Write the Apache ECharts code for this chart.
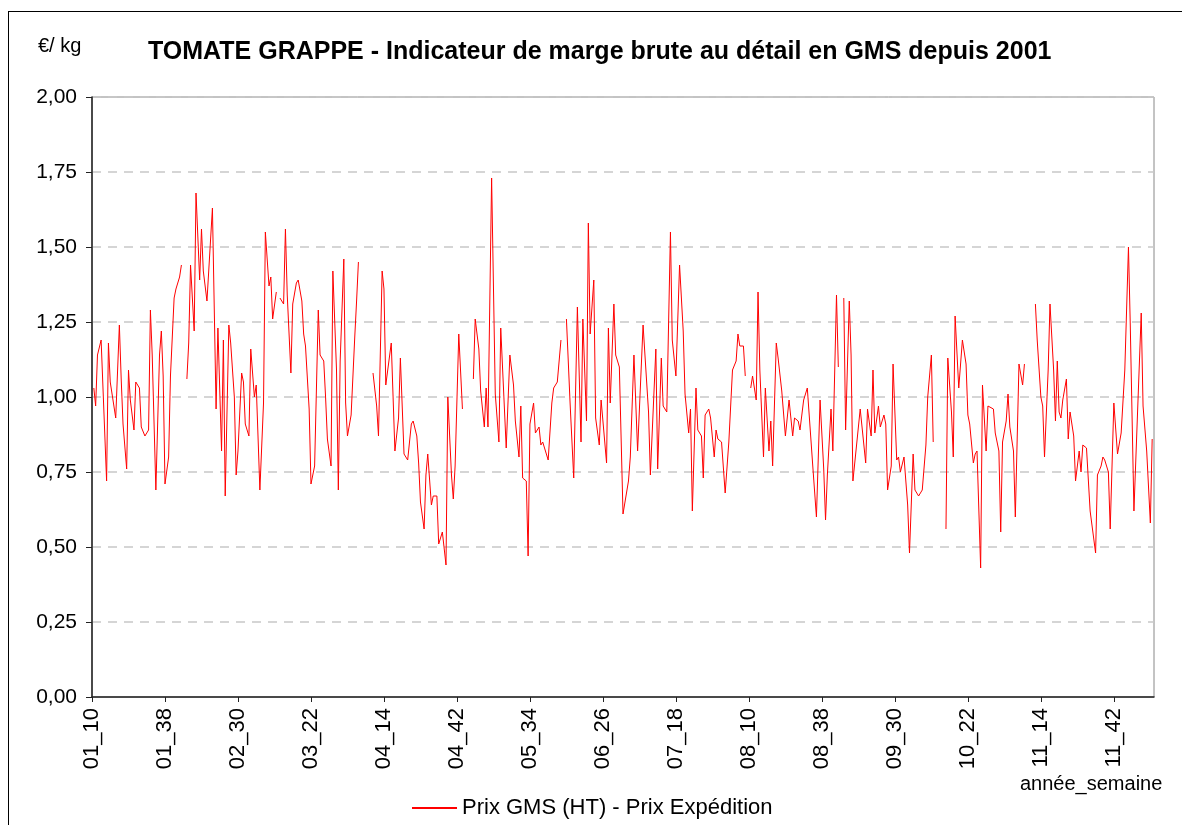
<!DOCTYPE html>
<html lang="fr">

<head>
    <meta charset="UTF-8">
    <title>Tomate grappe - marge brute GMS</title>
    <script src="https://cdn.jsdelivr.net/npm/echarts@6/dist/echarts.min.js"></script>
    <style>
        html, body { margin: 0; padding: 0; background: #fff; overflow: hidden; }
        #frame { position: absolute; left: 8px; top: 11px; width: 1200px; height: 840px; border: 1px solid #000; }
        #chart { position: absolute; left: 0; top: 0; width: 1182px; height: 825px; }
    </style>
</head>

<body>
    <div id="frame"></div>
    <div id="chart"></div>
</body>

</html>
<script>
    // rang de la semaine depuis 01_10 (une semaine = 1)
    let weekIdx = [
        1, 2, 3, 5, 8, 9, 10, 13, 15, 16, 17, 19, 20, 21, 23, 24, 26, 27, 29, 31, 32, 33, 35, 37, 38, 39, 40, 42, 43, 45, 46, 48, 49, 50,
        52, 53, 54, 56, 57, 59, 60, 61, 63, 66, 68, 69, 71, 72, 73, 75, 76, 78, 79, 80, 82, 83, 84, 86, 87, 89, 90, 92, 94, 95, 97, 98, 99, 101, 102,
        103, 105, 106, 107, 109, 110, 112, 113, 115, 116, 117, 119, 120, 122, 124, 125, 127, 128, 129, 131, 132, 134, 135, 136, 138, 139, 140, 142, 144, 145, 146, 147,
        154, 156, 157, 159, 160, 161, 164, 166, 168, 169, 171, 172, 173, 175, 176, 178, 179, 180, 182, 183, 184, 186, 187, 189, 190, 192, 194, 195, 197, 198, 199, 201, 203, 205,
        209, 210, 212, 213, 215, 216, 217, 219, 221, 223, 224, 227, 228, 229, 231, 232, 234, 235, 236, 238, 239, 240, 242, 243, 245, 246, 247, 250, 252, 253, 255, 257, 258,
        260, 261, 262, 264, 266, 268, 269, 271, 272, 273, 275, 276, 278, 279, 280, 282, 283, 284, 286, 287, 289, 291, 294, 295, 297, 299, 302, 305, 306, 309, 310,
        312, 313, 315, 317, 318, 320, 322, 324, 325, 327, 328, 329, 331, 332, 334, 335, 336, 338, 339, 341, 342, 343, 345, 347, 349, 351, 353, 354, 355, 357, 358, 359,
        361, 362, 364, 365, 366, 368, 369, 371, 372, 373, 375, 376, 378, 380, 382, 384, 385, 387, 388, 390, 391, 392, 395, 397,
        399, 401, 402, 403, 405, 406, 408, 409, 410,
        412, 413, 415, 416, 417, 419, 421, 422, 424, 425, 427, 428, 429, 431, 432, 434, 435, 436, 438, 439, 441, 442, 443, 445, 447, 448, 450, 451, 453, 454, 455, 457, 458, 460, 461, 464,
        468, 469, 471, 472, 473, 475, 477, 479, 480, 481, 483, 484, 485, 487, 488, 490, 491, 492,
        494, 495, 497, 498, 499, 501, 502, 503, 505, 506, 508, 510, 511, 513,
        517, 518, 520, 521, 522, 524, 525, 527, 528, 529, 530, 531, 532, 534, 535, 536, 538, 539, 541, 542, 543, 545, 547, 550, 551, 553, 554, 555, 557, 558,
        560, 562, 564, 566, 568, 569, 571, 573, 575, 576, 578, 580, 581
    ];
    // Prix GMS (HT) - Prix Expédition, €/kg (null = semaine manquante)
    let margin = [
        1.03, 0.97, 1.14, 1.19, 0.72, 1.18, 1.05, 0.93, 1.24, 1.06, 0.91, 0.76, 1.09, 0.99, 0.89, 1.05, 1.03, 0.90, 0.87, 0.89, 1.29, 1.14, 0.69, 1.14, 1.22, 1.07, 0.71, 0.80, 1.07, 1.33, 1.36, 1.40, 1.44, null,
        1.06, 1.18, 1.44, 1.22, 1.68, 1.39, 1.56, 1.42, 1.32, 1.63, 0.96, 1.23, 0.82, 1.19, 0.67, 1.24, 1.18, 1.00, 0.74, 0.82, 1.08, 1.05, 0.91, 0.87, 1.16, 1.00, 1.04, 0.69, 0.98, 1.55, 1.37, 1.40, 1.26, 1.35, null,
        1.33, 1.31, 1.56, 1.34, 1.08, 1.31, 1.38, 1.39, 1.32, 1.21, 1.17, 0.96, 0.71, 0.77, 1.29, 1.14, 1.12, 1.00, 0.86, 0.77, 1.42, 1.09, 0.69, 1.12, 1.46, 0.98, 0.87, 0.94, 1.20, 1.32, 1.45, null,
        1.08, 0.97, 0.87, 1.42, 1.36, 1.04, 1.18, 0.82, 0.93, 1.13, 0.81, 0.81, 0.79, 0.91, 0.92, 0.87, 0.78, 0.65, 0.56, 0.74, 0.81, 0.64, 0.67, 0.67, 0.51, 0.55, 0.44, 1.00, 0.74, 0.66, 0.77, 1.21, 0.96, null,
        1.06, 1.26, 1.16, 1.02, 0.90, 1.03, 0.90, 1.73, 1.01, 0.85, 1.23, 0.83, 0.83, 1.14, 1.04, 0.92, 0.80, 0.97, 0.73, 0.72, 0.47, 0.91, 0.98, 0.88, 0.90, 0.84, 0.85, 0.79, 0.98, 1.03, 1.05, 1.19, null,
        1.26, 1.26, 0.98, 0.73, 1.30, 0.85, 1.26, 0.92, 1.58, 1.21, 1.39, 0.93, 0.84, 0.99, 0.92, 0.78, 1.23, 0.98, 1.31, 1.14, 1.10, 0.61, 0.72, 0.80, 1.14, 0.82, 1.24, 0.95, 0.74, 1.16, 0.76,
        1.13, 0.97, 0.95, 1.55, 1.19, 1.07, 1.44, 1.22, 1.01, 0.88, 0.96, 0.62, 1.03, 0.89, 0.87, 0.73, 0.94, 0.96, 0.93, 0.80, 0.89, 0.86, 0.85, 0.68, 0.85, 1.09, 1.12, 1.21, 1.17, 1.17, 1.07, null,
        1.03, 1.07, 0.99, 1.35, 1.09, 0.80, 1.03, 0.82, 0.92, 0.77, 1.18, 1.13, 1.02, 0.87, 0.99, 0.87, 0.93, 0.92, 0.89, 0.99, 1.01, 1.03, 0.77, 0.60,
        0.99, 0.76, 0.59, 0.74, 0.96, 0.82, 1.34, 1.10, null,
        1.33, 0.89, 1.32, 1.14, 0.72, 0.84, 0.96, 0.96, 0.78, 0.96, 0.87, 1.09, 0.88, 0.97, 0.90, 0.94, 0.91, 0.69, 0.77, 1.11, 0.79, 0.80, 0.75, 0.80, 0.64, 0.48, 0.81, 0.69, 0.67, 0.67, 0.69, 0.84, 1.00, 1.14, 0.85, null,
        0.56, 1.13, 0.95, 0.80, 1.27, 1.03, 1.19, 1.11, 0.94, 0.91, 0.78, 0.81, 0.82, 0.43, 1.04, 0.82, 0.97, 0.97,
        0.96, 0.88, 0.82, 0.55, 0.85, 0.92, 1.01, 0.90, 0.82, 0.60, 1.11, 1.04, 1.11, null,
        1.31, 1.19, 1.00, 0.97, 0.80, 1.09, 1.31, 1.09, 0.92, 1.12, 0.95, 0.93, 0.99, 1.06, 0.86, 0.95, 0.87, 0.72, 0.82, 0.75, 0.84, 0.83, 0.62, 0.48, 0.74, 0.77, 0.80, 0.79, 0.75, 0.56,
        0.98, 0.81, 0.88, 1.09, 1.50, 1.24, 0.62, 0.95, 1.28, 0.97, 0.82, 0.58, 0.86
    ];
    // étiquettes de l'axe x, une toutes les 40 semaines
    let tickLabels = ['01_10', '01_38', '02_30', '03_22', '04_14', '04_42', '05_34', '06_26',
        '07_18', '08_10', '08_38', '09_30', '10_22', '11_14', '11_42'];
    let tickStep = 40;
    let lastWeek = 582;

    (function () {
        let font = 'Liberation Sans, Arial, sans-serif';
        let tickVals = tickLabels.map(function (t, i) { return i * tickStep; });
        let data = weekIdx.map(function (w, i) {
            return [w, margin[i] === null ? '-' : margin[i]];
        });

        let myChart = echarts.init(document.getElementById('chart'));
        let option = {
            animation: false,
            title: [
                {
                    text: 'TOMATE GRAPPE - Indicateur de marge brute au détail en GMS depuis 2001',
                    left: 143,
                    top: 35,
                    textStyle: { fontFamily: font, fontSize: 25, fontWeight: 'bold', color: '#000' }
                },
                {
                    text: '€/ kg',
                    left: 33,
                    top: 31,
                    textStyle: { fontFamily: font, fontSize: 20, fontWeight: 'normal', color: '#000' }
                },
                {
                    text: 'année_semaine',
                    left: 1015,
                    top: 769,
                    textStyle: { fontFamily: font, fontSize: 20, fontWeight: 'normal', color: '#000' }
                }
            ],
            legend: {
                left: 407,
                top: 792,
                icon: 'rect',
                itemWidth: 45,
                itemHeight: 2,
                textStyle: { fontFamily: font, fontSize: 22, color: '#000' },
                data: ['Prix GMS (HT) - Prix Expédition']
            },
            grid: {
                left: 92,
                right: 28,
                top: 97,
                bottom: 128,
                show: true,
                borderColor: '#888',
                borderWidth: 1
            },
            xAxis: {
                type: 'value',
                min: 0,
                max: lastWeek,
                axisLine: { show: true, onZero: false, lineStyle: { color: '#222', width: 1.5 } },
                axisTick: { show: true, customValues: tickVals, length: 5, lineStyle: { color: '#222' } },
                axisLabel: {
                    customValues: tickVals,
                    rotate: 90,
                    margin: 11,
                    fontFamily: font,
                    fontSize: 22,
                    color: '#000',
                    formatter: function (v) { return tickLabels[Math.round(v / tickStep)] || ''; }
                },
                splitLine: { show: false }
            },
            yAxis: {
                type: 'value',
                min: 0,
                max: 2,
                interval: 0.25,
                axisLine: { show: true, lineStyle: { color: '#222', width: 1.5 } },
                axisTick: { show: true, length: 6, lineStyle: { color: '#222' } },
                axisLabel: {
                    margin: 15,
                    fontFamily: font,
                    fontSize: 21,
                    color: '#000',
                    formatter: function (v) { return v.toFixed(2).replace('.', ','); }
                },
                splitLine: { lineStyle: { type: [9, 7], color: '#c8c8c8', width: 1.5 } }
            },
            series: [
                {
                    name: 'Prix GMS (HT) - Prix Expédition',
                    type: 'line',
                    showSymbol: false,
                    symbol: 'none',
                    itemStyle: { color: '#ff0000' },
                    lineStyle: { color: '#ff0000', width: 1 },
                    data: data
                }
            ]
        };
        myChart.setOption(option);
    })()
</script>
